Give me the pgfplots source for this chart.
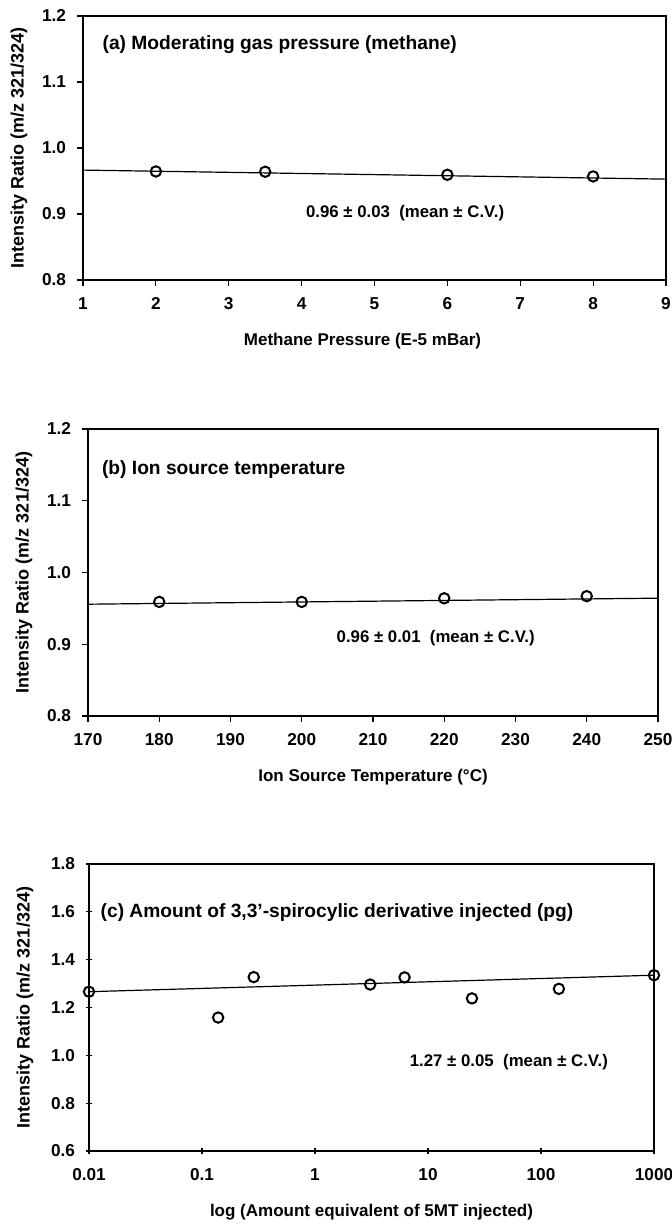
\documentclass[border=0pt]{standalone}
\usepackage{pgfplots}
\pgfplotsset{compat=1.18}
\usepackage{fontspec}
\setmainfont{Liberation Sans}

% shared look of the three panels
\pgfplotsset{
    ratio panel/.style={
        scale only axis,
        anchor=south west,
        axis line style={line width=0.6pt},
        tick style={black, line width=0.6pt},
        major tick length=3pt,
        tick align=outside,
        xtick pos=bottom, ytick pos=left,
        /pgf/number format/assume math mode=true,
        tick label style={font=\bfseries\fontsize{8.6}{9}\selectfont},
        xticklabel style={anchor=base},
        xticklabel shift=11.6pt,
        yticklabel shift=2pt,
        yticklabel style={/pgf/number format/.cd, fixed, fixed zerofill, precision=1},
        xlabel style={font=\bfseries\fontsize{8.5}{9}\selectfont,
            at={(axis description cs:0.5,0)}, anchor=center, yshift=-30.5pt},
        ylabel style={font=\bfseries\fontsize{9}{10}\selectfont,
            at={(axis description cs:0,0.5)}, anchor=center, yshift=32pt},
        clip=false,
    },
    fit line/.style={black, line width=0.6pt, no marks},
    pts/.style={only marks, mark=o, mark size=2.6pt, mark options={line width=1pt, black}},
}
\tikzset{
    panel title/.style={anchor=west, inner sep=0pt, font=\bfseries\fontsize{9.6}{11}\selectfont},
    panel note/.style={inner sep=0pt, font=\bfseries\fontsize{8.4}{10}\selectfont},
}

\begin{document}
\begin{tikzpicture}
    \useasboundingbox (0,0) rectangle (336pt,612pt);
    \clip (0,0) rectangle (336pt,612pt);

    % (a) moderating gas pressure
    \begin{axis}[ratio panel,
            at={(41.5pt,472pt)}, width=291.5pt, height=132pt,
            xmin=1, xmax=9, xtick={1,2,...,9},
            ymin=0.8, ymax=1.2, ytick={0.8,0.9,1.0,1.1,1.2},
            xlabel={Methane Pressure (E-5 mBar)},
            xlabel style={xshift=-6pt},
            ylabel={Intensity Ratio (m/z 321/324)}]
        \addplot[fit line] coordinates {(1,0.9665) (9,0.9528)};
        \addplot[pts] coordinates {(2,0.9644) (3.5,0.9640) (6,0.9594) (8,0.9569)};
        \node[panel title] at (axis description cs:0.033,0.893)
            {(a) Moderating gas pressure (methane)};
        \node[panel note] at (axis cs:5.42,0.901)
            {0.96 ± 0.03\ \ (mean ± C.V.)};
    \end{axis}

    % (b) ion source temperature
    \begin{axis}[ratio panel,
            at={(44pt,254pt)}, width=285pt, height=143.5pt,
            xmin=170, xmax=250, xtick={170,180,...,250},
            ymin=0.8, ymax=1.2, ytick={0.8,0.9,1.0,1.1,1.2},
            xlabel={Ion Source Temperature (°C)},
            ylabel={Intensity Ratio (m/z 321/324)}]
        \addplot[fit line] coordinates {(170,0.9558) (250,0.9642)};
        \addplot[pts] coordinates {(180,0.959) (200,0.959) (220,0.964) (240,0.967)};
        \node[panel title] at (axis description cs:0.024,0.86)
            {(b) Ion source temperature};
        \node[panel note] at (axis cs:218.8,0.908)
            {0.96 ± 0.01\ \ (mean ± C.V.)};
    \end{axis}

    % (c) amount injected
    \begin{semilogxaxis}[ratio panel,
            at={(44.5pt,36.5pt)}, width=282.5pt, height=143.5pt,
            tick align=center, xticklabel shift=13.1pt,
            xmin=0.01, xmax=1000, xtick={0.01,0.1,1,10,100,1000},
            xticklabels={0.01,0.1,1,10,100,1000},
            minor tick num=0, minor x tick style={draw=none},
            ymin=0.6, ymax=1.8, ytick={0.6,0.8,...,1.8},
            xlabel={log (Amount equivalent of 5MT injected)},
            ylabel={Intensity Ratio (m/z 321/324)}]
        \addplot[fit line] coordinates {(0.01,1.266) (1000,1.335)};
        \addplot[pts] coordinates {
            (0.01,1.266) (0.139,1.158) (0.287,1.327) (3.08,1.296)
            (6.2,1.326) (24.5,1.238) (144,1.278) (1000,1.335)};
        \node[panel title] at (axis description cs:0.02,0.832)
            {(c) Amount of 3,3'-spirocylic derivative injected (pg)};
        \node[panel note] at (axis cs:52,0.970)
            {1.27 ± 0.05\ \ (mean ± C.V.)};
    \end{semilogxaxis}
\end{tikzpicture}
\end{document}
